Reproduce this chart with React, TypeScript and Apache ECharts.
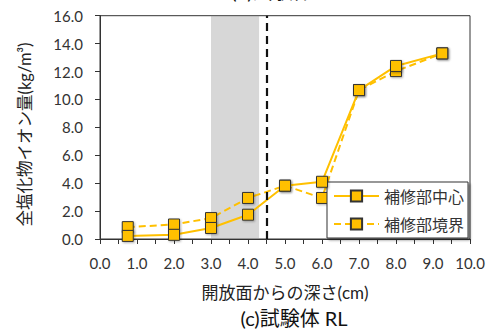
import React, { useEffect, useRef } from "react";
import * as echarts from "echarts";

const depths = [0.75, 2.0, 3.0, 4.0, 5.0, 6.0, 7.0, 8.0, 9.25];
const centerValues = [0.22, 0.3, 0.79, 1.74, 3.82, 4.1, 10.67, 12.4, 13.3];
const boundaryValues = [0.85, 1.04, 1.5, 2.94, 3.82, 2.94, 10.67, 12.03, 13.3];
const seriesNames = ["補修部中心", "補修部境界"];
const shadedRange = [3.0, 4.3];
const markerDepth = 4.5;
const xTitle = "開放面からの深さ(cm)";
const yTitle = "全塩化物イオン量(kg/m³)";
const subTitle = "(c)試験体 RL";
const topTitle = "(b)試験体";

const FONT = "Lato, 'Noto Sans CJK JP', sans-serif";
const YELLOW = "#FFC000";

export default function App() {
  const ref = useRef<HTMLDivElement>(null);
  useEffect(() => {
    if (!ref.current) return;
    const chart = echarts.init(ref.current, undefined, { renderer: "svg" });
    const pts = (vals: number[]) => depths.map((d, i) => [d, vals[i]]);
    const markerStyle = {
      color: YELLOW,
      borderColor: "#333",
      borderWidth: 1,
      shadowColor: "rgba(0,0,0,0.3)",
      shadowBlur: 2,
      shadowOffsetX: 1,
      shadowOffsetY: 1,
    };
    chart.setOption({
      animation: false,
      textStyle: { fontFamily: FONT },
      grid: {
        left: 100,
        right: 23,
        top: 15.7,
        bottom: 90,
        show: true,
        borderColor: "#333",
        borderWidth: 1,
        backgroundColor: "transparent",
      },
      xAxis: {
        type: "value",
        min: 0,
        max: 10,
        interval: 1,
        axisLine: { show: true, onZero: false, lineStyle: { color: "#333", width: 1 } },
        axisTick: { show: true, inside: false, length: 5, lineStyle: { color: "#333" } },
        minorTick: { show: true, splitNumber: 2, length: 5, lineStyle: { color: "#333" } },
        splitLine: { show: false },
        axisLabel: {
          margin: 16,
          fontSize: 15,
          color: "#333",
          fontFamily: FONT,
          formatter: (v: number) => v.toFixed(1),
        },
      },
      yAxis: {
        type: "value",
        min: 0,
        max: 16,
        interval: 2,
        axisLine: { show: true, lineStyle: { color: "#333", width: 1 } },
        axisTick: { show: true, inside: false, length: 5, lineStyle: { color: "#333" } },
        splitLine: { show: false },
        axisLabel: {
          margin: 17,
          fontSize: 15,
          color: "#333",
          fontFamily: FONT,
          formatter: (v: number) => v.toFixed(1),
        },
      },
      legend: {
        orient: "vertical",
        left: 327,
        top: 182,
        width: 139,
        padding: [6, 4, 6, 6],
        itemGap: 12,
        itemWidth: 45,
        itemHeight: 14,
        backgroundColor: "#fff",
        borderColor: "#333",
        borderWidth: 1,
        shadowColor: "rgba(0,0,0,0.35)",
        shadowBlur: 2,
        shadowOffsetX: 2,
        shadowOffsetY: 2,
        textStyle: { fontSize: 16, color: "#333", fontFamily: FONT, padding: [0, 0, 0, 0] },
        data: seriesNames,
      },
      series: [
        {
          name: seriesNames[1],
          type: "line",
          data: pts(boundaryValues),
          symbol: "rect",
          symbolSize: 11,
          z: 3,
          lineStyle: { color: YELLOW, width: 2, type: [7, 4] },
          itemStyle: markerStyle,
        },
        {
          name: seriesNames[0],
          type: "line",
          data: pts(centerValues),
          symbol: "rect",
          symbolSize: 11,
          z: 4,
          lineStyle: { color: YELLOW, width: 2, type: "solid" },
          itemStyle: markerStyle,
        },
        {
          name: "band",
          type: "line",
          data: [],
          z: 6,
          silent: true,
          markArea: {
            silent: true,
            itemStyle: { color: "rgba(150,150,150,0.38)" },
            data: [[{ xAxis: shadedRange[0], yAxis: 0 }, { xAxis: shadedRange[1], yAxis: 16 }]],
          },
          markLine: {
            silent: true,
            symbol: ["none", "none"],
            label: { show: false },
            lineStyle: { color: "#111", width: 2.2, type: [8, 5] },
            data: [[{ coord: [markerDepth, 0] }, { coord: [markerDepth, 16] }]],
          },
        },
      ],
      graphic: [
        {
          type: "text",
          x: 25,
          y: 134.5,
          rotation: Math.PI / 2,
          style: {
            text: yTitle,
            fontSize: 16.5,
            fontFamily: FONT,
            fill: "#222",
            textAlign: "center",
            textVerticalAlign: "middle",
          },
        },
        {
          type: "text",
          x: 285,
          y: 292,
          style: {
            text: xTitle,
            fontSize: 17,
            fontFamily: FONT,
            fill: "#222",
            textAlign: "center",
            textVerticalAlign: "middle",
          },
        },
        {
          type: "text",
          x: 294,
          y: 318,
          style: {
            text: subTitle,
            fontSize: 20,
            fontFamily: FONT,
            fill: "#111",
            textAlign: "center",
            textVerticalAlign: "middle",
          },
        },
        {
          type: "text",
          x: 272,
          y: -9,
          style: {
            text: topTitle,
            fontSize: 20,
            fontFamily: FONT,
            fill: "#111",
            textAlign: "center",
            textVerticalAlign: "middle",
          },
        },
      ],
    });
    return () => chart.dispose();
  }, []);
  return <div ref={ref} style={{ width: 493, height: 329, position: "absolute", left: 0, top: 0 }} />;
}
